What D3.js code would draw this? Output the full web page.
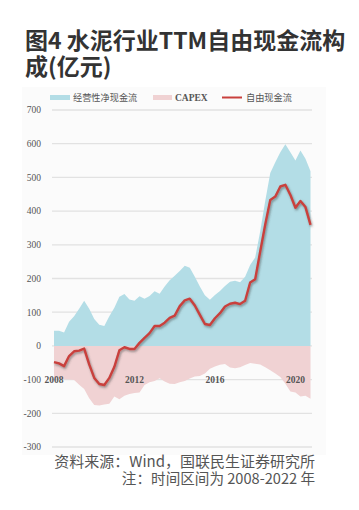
<!DOCTYPE html>
<html><head><meta charset="utf-8">
<script src="https://cdn.jsdelivr.net/npm/d3@7/dist/d3.min.js"></script>
<style>html,body{margin:0;padding:0;background:#fff;}svg{display:block;}</style>
</head><body>
<svg id="c" width="359" height="510"></svg>
<script>
// quarterly observations (index 0 = 2008 start)
const yearLabels = ["2008","2012","2016","2020"];
const yearIndex = [0,16,32,48];
const yTicks = [700,600,500,400,300,200,100,0,-100,-200,-300];
const ocf = [45,45,40,72,88,110,134,110,80,63,59,88,113,146,154,138,134,147,140,148,162,155,176,195,208,222,238,232,205,176,150,137,151,163,178,190,193,189,205,240,262,340,430,513,545,575,598,575,550,580,555,518];
const capex = [-95,-97,-99,-100,-101,-115,-128,-155,-175,-177,-174,-172,-150,-158,-148,-143,-140,-138,-116,-108,-104,-96,-106,-112,-113,-108,-104,-97,-91,-89,-82,-68,-61,-56,-54,-64,-66,-63,-57,-51,-53,-55,-63,-72,-82,-92,-112,-135,-138,-150,-148,-157];
const fcf = [-48,-52,-60,-30,-16,-14,-8,-55,-95,-113,-116,-95,-62,-13,-4,-9,-9,9,24,38,59,59,69,83,90,118,135,140,120,92,65,62,82,97,117,125,128,124,134,188,198,280,360,433,443,473,478,448,410,430,412,359];
const legendNames = ["经营性净现金流","CAPEX","自由现金流"];

const svg = d3.select("#c");
const x = d3.scaleLinear().domain([0, ocf.length-1]).range([54, 310.5]);
const y = d3.scaleLinear().domain([-300,700]).range([447,110]);

// title
svg.append("text").attr("x",25).attr("y",49).attr("font-family","'Noto Sans CJK SC'").attr("font-weight",700)
  .attr("font-size",23).attr("fill","#333").text("图4 水泥行业TTM自由现金流构");
svg.append("text").attr("x",25).attr("y",74.5).attr("font-family","'Noto Sans CJK SC'").attr("font-weight",700)
  .attr("font-size",23).attr("fill","#333").text("成(亿元)");

// faint panel
svg.append("rect").attr("x",22).attr("y",87).attr("width",304).attr("height",368).attr("fill","#fbfbfb");

const defs = svg.append("defs");
const f = defs.append("filter").attr("id","sh").attr("x","-10%").attr("y","-10%").attr("width","120%").attr("height","120%");
f.append("feDropShadow").attr("dx",1).attr("dy",1.5).attr("stdDeviation",0.8).attr("flood-color","#444").attr("flood-opacity",0.55);

// gridlines
svg.append("g").selectAll("line").data(yTicks).join("line")
  .attr("x1",52).attr("x2",312).attr("y1",d=>y(d)).attr("y2",d=>y(d))
  .attr("stroke","#e2e2e2").attr("stroke-width",1.3);

// y labels
svg.append("g").selectAll("text").data(yTicks).join("text")
  .attr("x",41).attr("y",d=>y(d)+3.3).attr("text-anchor","end")
  .attr("font-family","'Liberation Serif'").attr("font-size",9.5).attr("fill","#555").text(d=>d);

// areas
const idx = d3.range(ocf.length);
svg.append("path").datum(idx).attr("fill","#b3dde6")
  .attr("d", d3.area().x(i=>x(i)).y0(y(0)).y1(i=>y(ocf[i])));
svg.append("path").datum(idx).attr("fill","#f0d2d3")
  .attr("d", d3.area().x(i=>x(i)).y0(y(0)).y1(i=>y(capex[i])));

// x labels
svg.append("g").selectAll("text").data(yearIndex).join("text")
  .attr("x",i=>x(i)).attr("y",y(-100)+3.3).attr("text-anchor","middle")
  .attr("font-family","'Liberation Serif'").attr("font-weight",700).attr("font-size",9.5).attr("fill","#555")
  .text((d,k)=>yearLabels[k]);

// fcf line
svg.append("path").datum(idx).attr("fill","none").attr("stroke","#c9403c").attr("stroke-width",2.4)
  .attr("stroke-linejoin","round").attr("filter","url(#sh)")
  .attr("d", d3.line().x(i=>x(i)).y(i=>y(fcf[i])));

// legend
const ly = 97.5;
svg.append("rect").attr("x",50).attr("y",ly-2.5).attr("width",20).attr("height",5).attr("fill","#b3dde6");
svg.append("text").attr("x",73).attr("y",ly+3.2).attr("font-family","'Noto Sans CJK SC'").attr("font-size",9.2).attr("fill","#555").text(legendNames[0]);
svg.append("rect").attr("x",153).attr("y",ly-2.5).attr("width",19).attr("height",5).attr("fill","#f0d2d3");
svg.append("text").attr("x",175).attr("y",ly+3.3).attr("font-family","'Liberation Serif'").attr("font-weight",700).attr("font-size",9.5).attr("fill","#555").text(legendNames[1]);
svg.append("line").attr("x1",222).attr("x2",242).attr("y1",ly).attr("y2",ly).attr("stroke","#c9403c").attr("stroke-width",2);
svg.append("text").attr("x",246).attr("y",ly+3.2).attr("font-family","'Noto Sans CJK SC'").attr("font-size",9.2).attr("fill","#555").text(legendNames[2]);

// footer
svg.append("text").attr("x",315).attr("y",466.5).attr("text-anchor","end").attr("font-family","'Noto Sans CJK SC'")
  .attr("font-size",15).attr("fill","#555").text("资料来源：Wind，国联民生证券研究所");
svg.append("text").attr("x",315).attr("y",484).attr("text-anchor","end").attr("font-family","'Noto Sans CJK SC'")
  .attr("font-size",14.6).attr("fill","#555").text("注：时间区间为 2008-2022 年");
</script>
</body></html>
